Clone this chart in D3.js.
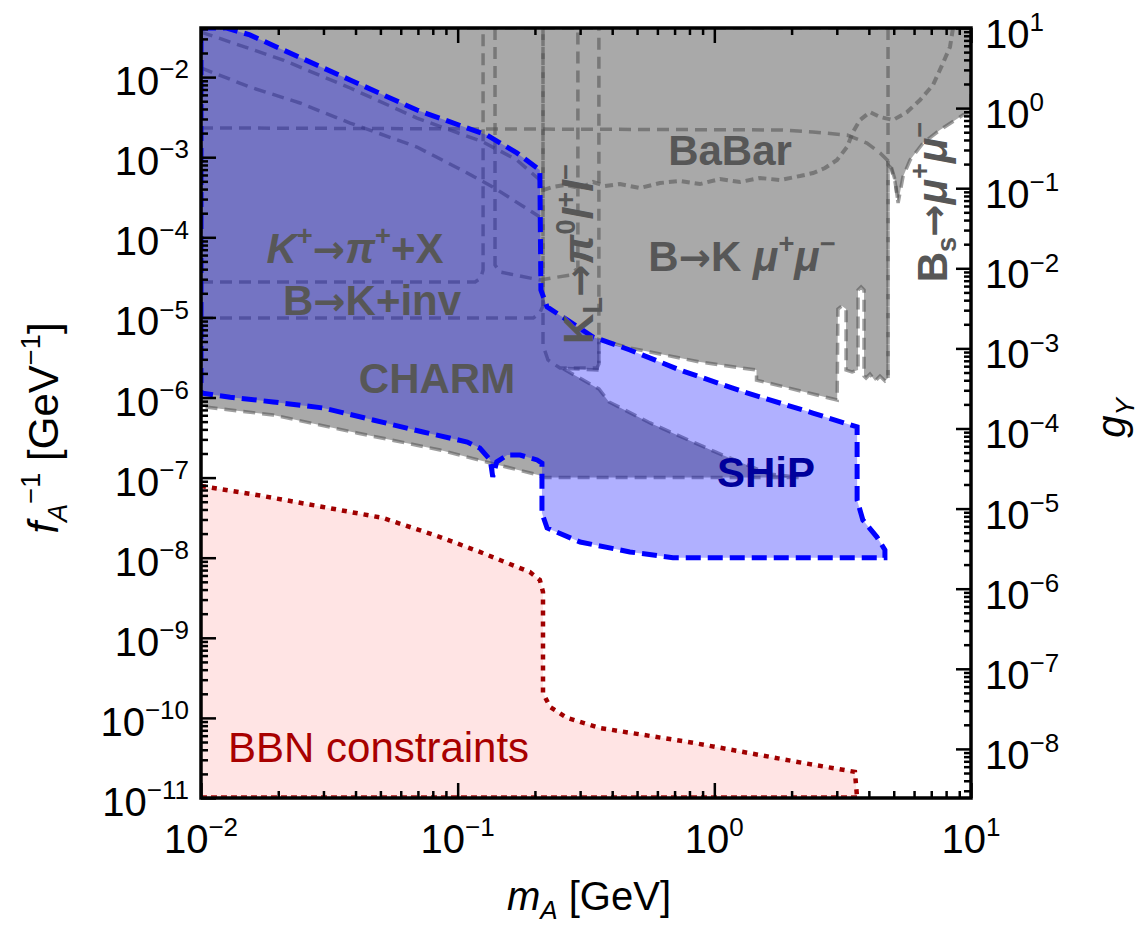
<!DOCTYPE html>
<html><head><meta charset="utf-8">
<script src="https://cdn.jsdelivr.net/npm/d3@7"></script>
<style>body{margin:0;background:#fff}svg{display:block}text{font-family:"Liberation Sans",Arial,sans-serif}</style>
</head><body>
<svg id="chart" width="1140" height="928"></svg>
<script>
// ---------- data (m_A in GeV, f_A^-1 in GeV^-1) ----------
const xTickExps = [-2, -1, 0, 1];
const yTickExps = [-2, -3, -4, -5, -6, -7, -8, -9, -10, -11];
const gTickExps = [1, 0, -1, -2, -3, -4, -5, -6, -7, -8];

const shipRegion = [
 [0.01,0.041],[0.0126,0.041],[0.0155,0.0336],[0.0209,0.0218],[0.0381,0.0092],[0.0694,0.00388],
 [0.130,0.00189],[0.170,0.00113],[0.209,6.92e-4],[0.211,2.2e-5],[0.223,1.35e-5],[0.267,9.3e-6],
 [0.337,5.69e-6],[0.469,3.92e-6],[0.735,2.2e-6],[1.34,1.14e-6],[2.42,6.4e-7],[3.60,4.29e-7],
 [3.60,5.25e-8],[3.79,2.96e-8],[4.30,1.81e-8],[4.62,1.25e-8],[4.62,1e-8],[0.690,1e-8],
 [0.469,1.18e-8],[0.300,1.57e-8],[0.223,2.35e-8],[0.213,3.61e-8],[0.213,1.52e-7],[0.204,1.66e-7],
 [0.175,1.91e-7],[0.156,1.91e-7],[0.142,1.57e-7],[0.137,1.02e-7],[0.134,1.66e-7],[0.122,2.34e-7],
 [0.109,2.78e-7],[0.0733,3.71e-7],[0.0468,5.24e-7],[0.0299,7.4e-7],[0.0191,8.8e-7],[0.0130,1.01e-6],
 [0.01,1.14e-6]
];

const excludedRegion = [
 [0.01,0.041],[10,0.041],[10,0.00366],[9.31,0.00337],[7.57,0.00219],[6.50,0.00150],[5.79,9.23e-4],
 [5.43,5.66e-4],[5.20,2.68e-4],[5.06,4.90e-4],[4.88,7.33e-4],[4.75,8.0e-4],[4.75,1.75e-6],
 [4.62,1.61e-6],[4.42,1.85e-6],[4.23,1.61e-6],[4.04,1.96e-6],[3.90,1.75e-6],[3.83,1.85e-6],
 [3.83,2.2e-5],[3.73,2.40e-5],[3.63,2.2e-5],[3.63,2.2e-6],[3.44,2.08e-6],[3.26,2.2e-6],
 [3.26,1.27e-5],[3.14,1.39e-5],[3.03,1.27e-5],[3.01,9.3e-7],[1.46,1.65e-6],[1.46,2.2e-6],
 [0.879,2.77e-6],[0.562,3.70e-6],[0.469,4.15e-6],[0.355,5.3e-6],[0.355,2.2e-6],[0.255,2.33e-6],
 [0.355,1.28e-6],[0.389,8.8e-7],[0.562,4.81e-7],[1.03,2.03e-7],[1.63,1.11e-7],[2.16,1e-7],
 [0.215,1e-7],[0.206,1.08e-7],[0.134,1.52e-7],[0.0854,2.21e-7],[0.0405,3.61e-7],[0.0191,6.05e-7],
 [0.0104,7.6e-7],[0.01,7.6e-7]
];

const bbnCurve = [
 [0.01,7.85e-8],[0.0165,6.07e-8],[0.0299,4.30e-8],[0.0512,3.13e-8],[0.0854,1.81e-8],[0.122,1.18e-8],
 [0.146,9.35e-9],[0.191,6.62e-9],[0.209,5.28e-9],[0.215,3.73e-9],[0.215,2.05e-10],[0.229,1.37e-10],
 [0.267,1.0e-10],[0.359,7.48e-11],[0.832,4.87e-11],[2.215,2.74e-11],[3.53,2.12e-11],[3.60,1e-11]
];

const kpiLine   = [[0.01,2.77e-5],[0.117,2.77e-5],[0.123,3.1e-5],[0.1256,3.91e-5],[0.1256,0.041]];
const kpi2Line  = [[0.1398,0.041],[0.1398,4.51e-5],[0.146,3.69e-5],[0.209,2.93e-5],[0.274,3.38e-5],[0.294,4.14e-5],[0.294,0.041]];
const babarLine = [[0.01,0.00232],[1.80,0.00219],[2.42,0.00207],[3.29,0.00189],[3.93,0.00150],[4.42,0.00113],[4.84,8.47e-4],[5.06,5.19e-4],[5.20,2.68e-4]];
const bkinvLine = [[0.01,9.8e-6],[0.197,9.8e-6],[0.209,1.14e-5],[0.215,1.39e-5],[0.215,0.041]];
const e949Line  = [[0.01,0.0130],[0.0155,0.00752],[0.0243,0.00475],[0.0381,0.00267],[0.0694,0.00134],[0.109,6.35e-4],[0.137,4.25e-4],[0.209,1.79e-4]];
const upperLine = [[0.01,0.0365],[0.0209,0.01633],[0.0381,0.00731],[0.0694,0.00308],[0.1256,0.00155],[0.170,9.23e-4],[0.209,5.19e-4]];
const klBoxLine = [[0.215,0.041],[0.215,4.52e-6],[0.2248,2.94e-6],[0.2504,2.33e-6],[0.3491,2.33e-6],[0.355,2.62e-6],[0.355,0.041]];
const bsVertLine = [[4.75,0.041],[4.75,1.75e-6]];
const lhcbLine = [
 [0.215,3.89e-4],[0.2352,4.25e-4],[0.2619,4.50e-4],[0.2996,4.12e-4],[0.3368,4.90e-4],[0.375,4.37e-4],
 [0.4291,4.62e-4],[0.5133,4.12e-4],[0.6142,4.76e-4],[0.7348,5.05e-4],[0.8794,4.62e-4],[1.052,5.35e-4],
 [1.259,4.90e-4],[1.506,5.50e-4],[1.803,5.19e-4],[2.157,5.82e-4],[2.424,6.35e-4],[2.699,7.33e-4],
 [3.006,9.23e-4],[3.287,1.34e-3],[3.470,2.07e-3],[3.694,2.91e-3],[4.041,3.66e-3],[4.421,3.18e-3],
 [4.968,2.91e-3],[5.633,3.66e-3],[6.328,5.18e-3],[7.112,7.96e-3],[7.780,0.0150],[8.284,0.0238],[8.510,0.041]
];

// ---------- scales ----------
const X0 = 201, X1 = 971, Y0 = 28, Y1 = 798;
const x = d3.scaleLog().domain([0.01, 10]).range([X0, X1]);
const y = d3.scaleLog().domain([1e-11, Math.pow(10, -1.387)]).range([Y1, Y0]);
const g = d3.scaleLog().domain([Math.pow(10, 1 - 9.613), 10]).range([Y1, Y0]);

const svg = d3.select("#chart");
svg.append("defs").append("clipPath").attr("id", "clip")
  .append("rect").attr("x", X0).attr("y", Y0).attr("width", X1 - X0).attr("height", Y1 - Y0);
const plot = svg.append("g").attr("clip-path", "url(#clip)");

const line = d3.line().x(d => x(d[0])).y(d => y(d[1]));
const area = pts => line(pts) + "Z";

// BBN fill
const bbnPoly = bbnCurve.concat([[0.01, 1e-11]]);
plot.append("path").attr("d", area(bbnPoly)).attr("fill", "#ffe4e4");

// excluded (gray) region
plot.append("path").attr("d", area(excludedRegion)).attr("fill", "#a9a9a9");

// constraint lines
const dashCol = "rgba(80,80,80,0.55)";
[kpiLine, kpi2Line, babarLine, bkinvLine, e949Line, upperLine, klBoxLine, bsVertLine].forEach(l => {
  plot.append("path").attr("d", line(l)).attr("fill", "none")
    .attr("stroke", dashCol).attr("stroke-width", 3.5).attr("stroke-dasharray", "12,7");
});
plot.append("path").attr("d", line(lhcbLine)).attr("fill", "none")
  .attr("stroke", dashCol).attr("stroke-width", 4).attr("stroke-dasharray", "8,5");
plot.append("path").attr("d", area(excludedRegion)).attr("fill", "none")
  .attr("stroke", dashCol).attr("stroke-width", 3.5).attr("stroke-dasharray", "12,7");

// SHiP fill
plot.append("path").attr("d", area(shipRegion)).attr("fill", "#0000ff").attr("fill-opacity", 0.31);

// BBN dotted outline
plot.append("path").attr("d", line(bbnCurve)).attr("fill", "none")
  .attr("stroke", "#a00000").attr("stroke-width", 4.5).attr("stroke-dasharray", "5,6");
plot.append("path").attr("d", line([[0.01, 1e-11], [3.6, 1e-11]])).attr("fill", "none")
  .attr("stroke", "#c04040").attr("stroke-width", 6).attr("stroke-dasharray", "6,4");

// SHiP outline
plot.append("path").attr("d", area(shipRegion)).attr("fill", "none")
  .attr("stroke", "#0000ff").attr("stroke-width", 5).attr("stroke-dasharray", "15,7");

// ---------- rich text helper ----------
function rich(sel, parts, size) {
  let cur = 0;
  parts.forEach(p => {
    const small = p.sup || p.sub;
    const target = p.sup ? -size * 0.42 : (p.sub ? size * 0.22 : 0);
    const ts = sel.append("tspan").text(p.t).attr("dy", target - cur);
    if (small) ts.attr("font-size", size * 0.65);
    if (p.it) ts.attr("font-style", "italic");
    if (p.ar) ts.attr("font-family", "'DejaVu Sans', sans-serif").attr("font-size", size * 0.92);
    cur = target;
  });
  return sel;
}
function label(xp, yp, parts, opts) {
  const o = Object.assign({size: 42, weight: "bold", fill: "#575757", anchor: "middle", rot: 0}, opts || {});
  const t = svg.append("text")
    .attr("transform", `translate(${xp},${yp})` + (o.rot ? ` rotate(${o.rot})` : ""))
    .attr("font-size", o.size).attr("font-weight", o.weight).attr("fill", o.fill)
    .attr("text-anchor", o.anchor);
  return rich(t, parts, o.size);
}
const AR = {t: "\u2192", ar: 1};

// region labels
label(355, 263, [{t:"K",it:1},{t:"+",sup:1},AR,{t:"\u03c0",it:1},{t:"+",sup:1},{t:"+X"}]);
label(372, 315, [{t:"B"},AR,{t:"K+inv"}]);
label(437, 393, [{t:"CHARM"}]);
label(730, 165, [{t:"BaBar"}]);
label(742, 271, [{t:"B"},AR,{t:"K "},{t:"\u03bc",it:1},{t:"+",sup:1},{t:"\u03bc",it:1},{t:"\u2212",sup:1}]);
label(593, 254, [{t:"K"},{t:"L",sub:1},AR,{t:"\u03c0",it:1},{t:"0",sup:1},{t:"l",it:1},{t:"+",sup:1},{t:"l",it:1},{t:"\u2212",sup:1}], {rot:-90});
label(947, 202, [{t:"B"},{t:"s",sub:1},AR,{t:"\u03bc",it:1},{t:"+",sup:1},{t:"\u03bc",it:1},{t:"\u2212",sup:1}], {rot:-90});
label(766, 487, [{t:"SHiP"}], {fill: "#00009c"});
label(228, 762, [{t:"BBN constraints"}], {weight: "normal", fill: "#a80000", anchor: "start"});

// ---------- axes ----------
const minors = (lo, hi) => { const r = []; for (let e = lo; e < hi; e++) for (let k = 2; k <= 9; k++) r.push(k * Math.pow(10, e)); return r; };
const xMajor = xTickExps.map(e => Math.pow(10, e));
const yMajor = yTickExps.map(e => Math.pow(10, e));
const gMajor = gTickExps.map(e => Math.pow(10, e));
const xMinor = minors(-2, 1);
const yMinor = minors(-11, -1).filter(v => v <= y.domain()[1]);
const gMinor = minors(-9, 1).filter(v => v >= g.domain()[0]);

function drawAxis(axisGen, tx, ty, vals, len) {
  const a = svg.append("g").attr("transform", `translate(${tx},${ty})`)
    .call(axisGen.tickValues(vals).tickSize(-len).tickFormat(""));
  a.select(".domain").remove();
  a.selectAll("line").attr("stroke", "#000").attr("stroke-width", 2.5);
}
drawAxis(d3.axisBottom(x), 0, Y1, xMajor, 15);
drawAxis(d3.axisBottom(x), 0, Y1, xMinor, 7);
drawAxis(d3.axisTop(x), 0, Y0, xMajor, 15);
drawAxis(d3.axisTop(x), 0, Y0, xMinor, 7);
drawAxis(d3.axisLeft(y), X0, 0, yMajor, 15);
drawAxis(d3.axisLeft(y), X0, 0, yMinor, 7);
drawAxis(d3.axisRight(g), X1, 0, gMajor, 15);
drawAxis(d3.axisRight(g), X1, 0, gMinor, 7);

svg.append("rect").attr("x", X0).attr("y", Y0).attr("width", X1 - X0).attr("height", Y1 - Y0)
  .attr("fill", "none").attr("stroke", "#000").attr("stroke-width", 3.5);

const powParts = e => [{t:"10"},{t:(e < 0 ? "\u2212" + (-e) : String(e)), sup:1}];
const tickOpts = {size: 40, weight: "normal", fill: "#000"};
yTickExps.forEach(e => label(189, y(Math.pow(10, e)) + 18, powParts(e), Object.assign({anchor: "end"}, tickOpts)));
xTickExps.forEach(e => label(x(Math.pow(10, e)), 853, powParts(e), Object.assign({anchor: "middle"}, tickOpts)));
gTickExps.forEach(e => label(985, g(Math.pow(10, e)) + 20, powParts(e), Object.assign({anchor: "start"}, tickOpts)));

// axis titles
label(589, 910, [{t:"m",it:1},{t:"A",it:1,sub:1},{t:" [GeV]"}], tickOpts);
label(58, 428, [{t:"f",it:1},{t:"A",it:1,sub:1},{t:"\u22121",sup:1},{t:" [GeV"},{t:"\u22121",sup:1},{t:"]"}], Object.assign({rot:-90}, tickOpts, {size: 42}));
label(1125, 418, [{t:"g",it:1},{t:"Y",it:1,sub:1}], Object.assign({rot:-90}, tickOpts));
</script>
</body></html>
